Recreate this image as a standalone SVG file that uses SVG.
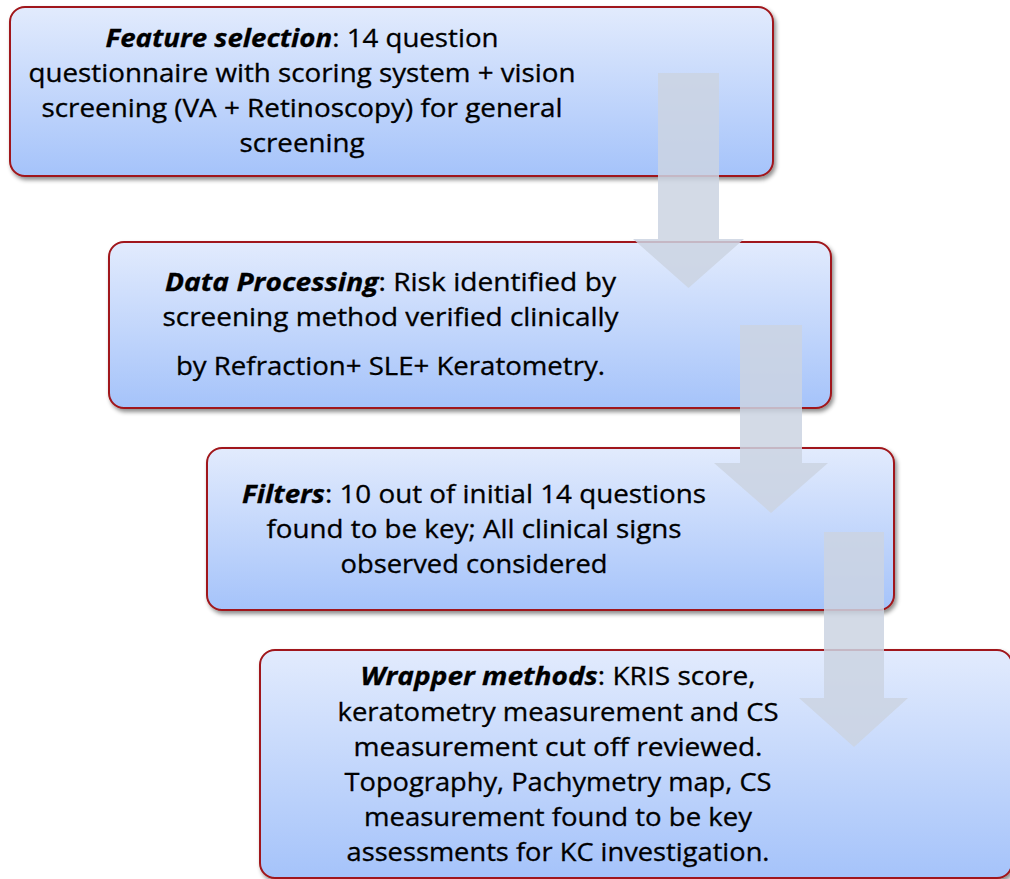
<svg xmlns="http://www.w3.org/2000/svg" width="1010" height="879" viewBox="0 0 1010 879">
<defs>
<linearGradient id="boxGrad" x1="0" y1="0" x2="0" y2="1">
<stop offset="0" stop-color="#e2ebfd"/>
<stop offset="1" stop-color="#a5c3fa"/>
</linearGradient>
<filter id="shadow" x="-5%" y="-10%" width="115%" height="125%">
<feDropShadow dx="2" dy="3" stdDeviation="2" flood-color="#000" flood-opacity="0.45"/>
</filter>
<style>
.box{fill:url(#boxGrad);stroke:#a0161a;stroke-width:2;filter:url(#shadow);}
.arrow{fill:#cbd3e2;opacity:0.85;}
.t{font-family:"Open Sans","Liberation Sans",sans-serif;font-size:25px;fill:#000;stroke:#000;stroke-width:0.3;text-anchor:middle;}
.b{font-weight:bold;font-style:italic;}
</style>
</defs>

<g id="node1">
<rect class="box" x="10" y="7" width="763" height="169" rx="15"/>
<text class="t" x="302" y="47" textLength="393" lengthAdjust="spacingAndGlyphs"><tspan class="b">Feature selection</tspan>: 14 question</text>
<text class="t" x="302" y="82" textLength="547" lengthAdjust="spacingAndGlyphs">questionnaire with scoring system + vision</text>
<text class="t" x="302" y="117" textLength="521" lengthAdjust="spacingAndGlyphs">screening (VA + Retinoscopy) for general</text>
<text class="t" x="302" y="152" textLength="125" lengthAdjust="spacingAndGlyphs">screening</text>
</g>

<g id="node2">
<rect class="box" x="109" y="242" width="722" height="166" rx="15"/>
<text class="t" x="390.5" y="291" textLength="451" lengthAdjust="spacingAndGlyphs"><tspan class="b">Data Processing</tspan>: Risk identified by</text>
<text class="t" x="390.5" y="326" textLength="456" lengthAdjust="spacingAndGlyphs">screening method verified clinically</text>
<text class="t" x="390.5" y="375" textLength="429" lengthAdjust="spacingAndGlyphs">by Refraction+ SLE+ Keratometry.</text>
</g>

<g id="node3">
<rect class="box" x="207" y="448" width="687" height="162" rx="15"/>
<text class="t" x="474" y="503" textLength="464" lengthAdjust="spacingAndGlyphs"><tspan class="b">Filters</tspan>: 10 out of initial 14 questions</text>
<text class="t" x="474" y="538" textLength="415" lengthAdjust="spacingAndGlyphs">found to be key; All clinical signs</text>
<text class="t" x="474" y="573" textLength="267" lengthAdjust="spacingAndGlyphs">observed considered</text>
</g>

<g id="node4">
<rect class="box" x="260" y="650" width="752" height="228" rx="15"/>
<text class="t" x="558" y="685" textLength="395" lengthAdjust="spacingAndGlyphs"><tspan class="b">Wrapper methods</tspan>: KRIS score,</text>
<text class="t" x="558" y="721" textLength="441" lengthAdjust="spacingAndGlyphs">keratometry measurement and CS</text>
<text class="t" x="558" y="756" textLength="409" lengthAdjust="spacingAndGlyphs">measurement cut off reviewed.</text>
<text class="t" x="558" y="791" textLength="427" lengthAdjust="spacingAndGlyphs">Topography, Pachymetry map, CS</text>
<text class="t" x="558" y="826" textLength="388" lengthAdjust="spacingAndGlyphs">measurement found to be key</text>
<text class="t" x="558" y="861" textLength="423" lengthAdjust="spacingAndGlyphs">assessments for KC investigation.</text>
</g>

<g id="connectors">
<polygon class="arrow" points="658,73 719,73 719,239 744,239 688.5,288 633,239 658,239"/>
<polygon class="arrow" points="740,325 802,325 802,463 828,463 771,513 714,463 740,463"/>
<polygon class="arrow" points="824,532 884,532 884,698 908,698 854,747 799,698 824,698"/>
</g>
</svg>
